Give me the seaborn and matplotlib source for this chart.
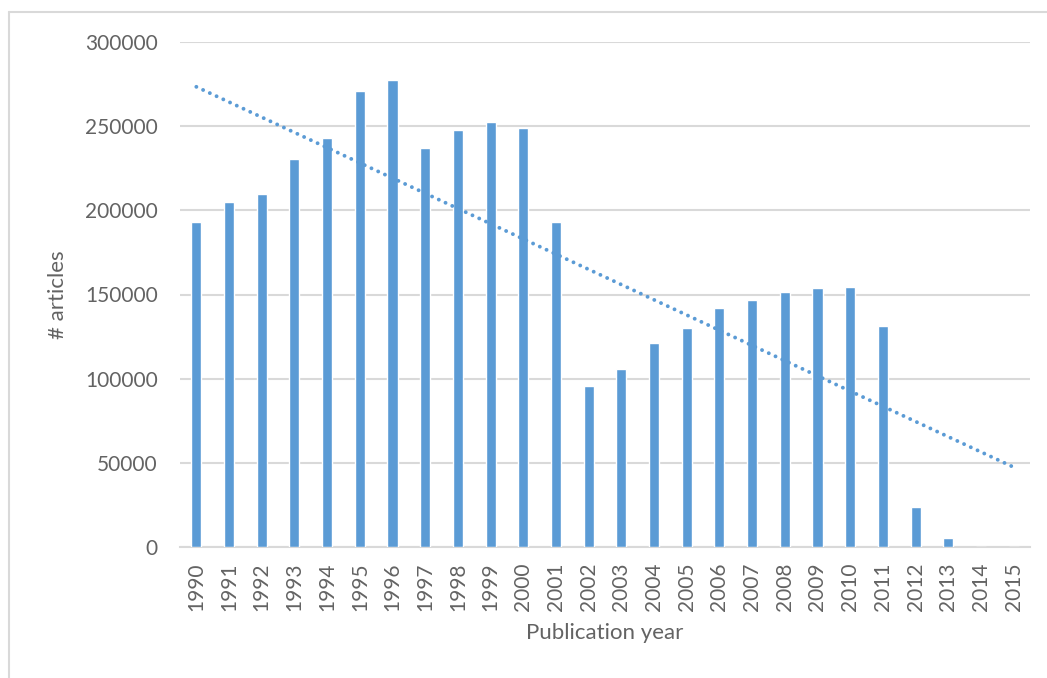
import numpy as np
import pandas as pd
import seaborn as sns
import matplotlib.pyplot as plt
from matplotlib.lines import Line2D

# Articles per publication year
years = [str(y) for y in range(1990, 2016)]
articles = [193000, 205000, 210000, 230500, 243000, 270800, 277400, 237000,
            247700, 252500, 248700, 193300, 95600, 105500, 121200, 130300,
            142000, 146700, 151600, 153800, 154300, 131000, 24000, 5500, 0, 0]
y_ticks = [0, 50000, 100000, 150000, 200000, 250000, 300000]

df = pd.DataFrame({'year': years, 'articles': articles})
df['pos'] = np.arange(len(df))

sns.set_theme(style='white')
plt.rcParams['font.family'] = ['Lato', 'DejaVu Sans']

blue = '#5B9BD5'
grey_text = '#636363'
grid_col = '#D9D9D9'

fig = plt.figure(figsize=(10.47, 6.78), dpi=100)
ax = fig.add_axes([180 / 1047, 131 / 678, 850 / 1047, 505 / 678])

sns.barplot(data=df, x='year', y='articles', order=years, color=blue,
            width=0.31, saturation=1, ax=ax, zorder=3)

# Linear trendline over all years
sns.regplot(data=df, x='pos', y='articles', scatter=False, ci=None, ax=ax,
            line_kws=dict(color=blue, lw=2.8, linestyle=(0, (0.01, 1.9)),
                          dash_capstyle='round', zorder=4))

ax.set_xlim(-0.5, len(years) - 0.5)
ax.set_ylim(0, 300000)
ax.set_yticks(y_ticks)
ax.set_yticklabels([str(v) for v in y_ticks])
ax.yaxis.grid(True, color=grid_col, lw=1.5, zorder=0)
ax.set_axisbelow(True)
for s in ['top', 'right', 'left']:
    ax.spines[s].set_visible(False)
ax.spines['bottom'].set_color(grid_col)
ax.spines['bottom'].set_linewidth(1.5)

ax.tick_params(axis='y', length=0, pad=16, labelsize=15, labelcolor=grey_text)
ax.tick_params(axis='x', length=0, pad=11, labelsize=15, labelcolor=grey_text,
               labelrotation=90)

ax.set_xlabel('Publication year', fontsize=16, color=grey_text, labelpad=9)
ax.set_ylabel('# articles', fontsize=16, color=grey_text, labelpad=12)

# chart border (partly cropped)
fig.add_artist(Line2D([9 / 1047, 9 / 1047], [0, 1 - 12 / 678], color='#D9D9D9',
                      lw=1.5, transform=fig.transFigure))
fig.add_artist(Line2D([9 / 1047, 1], [1 - 12 / 678, 1 - 12 / 678], color='#D9D9D9',
                      lw=1.5, transform=fig.transFigure))

fig.savefig('out.png', dpi=100)
